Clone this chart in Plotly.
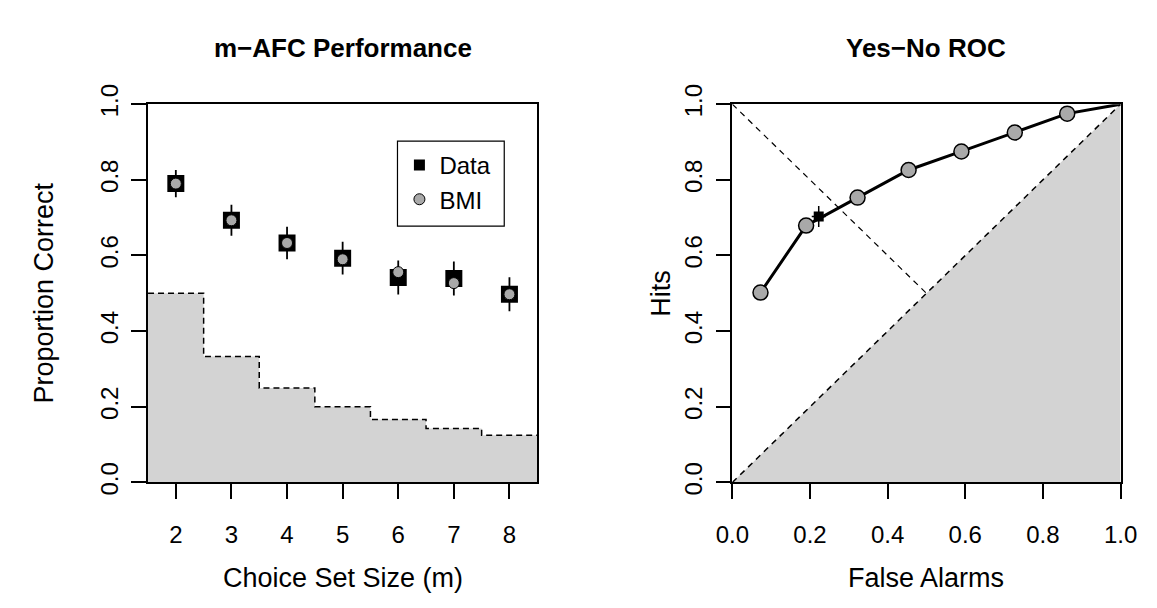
import plotly.graph_objects as go

# ---------------- data ----------------
# Left panel: m-AFC performance
set_size = [2, 3, 4, 5, 6, 7, 8]
chance = [0.5, 0.3333, 0.25, 0.2, 0.1667, 0.1429, 0.125]
data_pc = [0.79, 0.693, 0.633, 0.593, 0.542, 0.539, 0.4975]
data_err = [0.036, 0.041, 0.043, 0.043, 0.045, 0.045, 0.045]
bmi_pc = [0.79, 0.693, 0.633, 0.59, 0.556, 0.527, 0.4975]

# Right panel: Yes-No ROC
roc_fa = [0.0725, 0.19, 0.3225, 0.454, 0.59, 0.7275, 0.8625]
roc_hits = [0.502, 0.679, 0.753, 0.826, 0.875, 0.925, 0.975]
curve_end_fa = [1.0]
curve_end_hits = [1.0]
obs_fa = [0.2225]
obs_hits = [0.703]
obs_fa_err = [0.018]
obs_hits_err = [0.028]
diag_fa = [0.0, 1.0]
diag_hits = [0.0, 1.0]
anti_fa = [0.0, 0.5]
anti_hits = [1.0, 0.5]
below_fa = [0.0, 1.0, 1.0]
below_hits = [0.0, 0.0, 1.0]

x_ticks_left = [2, 3, 4, 5, 6, 7, 8]
unit_ticks = [0.0, 0.2, 0.4, 0.6, 0.8, 1.0]
unit_labels = ["0.0", "0.2", "0.4", "0.6", "0.8", "1.0"]

# ---------------- styling ----------------
W, H = 1157, 608
FONT = "Liberation Sans, Arial, Helvetica, sans-serif"
TICK_SIZE = 24
LAB_SIZE = 27
MAIN_SIZE = 26
FILL = "#d3d3d3"
PT_GRAY = "#a9a9a9"

def px_x(p):
    return p / W

def px_y(p):
    return 1 - p / H

fig = go.Figure()

# ---- left panel ----
edges = [m - 0.5 for m in set_size] + [set_size[-1] + 0.5]
steps = chance + [chance[-1]]
fig.add_trace(go.Scatter(
    x=edges, y=steps, mode="lines", line=dict(shape="hv", color="black", width=1.5, dash="6px,4px"),
    fill="tozeroy", fillcolor=FILL, showlegend=False, hoverinfo="skip", xaxis="x", yaxis="y"))

fig.add_trace(go.Scatter(
    x=set_size, y=data_pc, mode="markers",
    marker=dict(symbol="square", size=17, color="black"),
    error_y=dict(type="data", array=data_err, visible=True, color="black", thickness=1.8, width=0),
    showlegend=False, xaxis="x", yaxis="y"))
fig.add_trace(go.Scatter(
    x=set_size, y=bmi_pc, mode="markers",
    marker=dict(symbol="circle", size=11, color=PT_GRAY, line=dict(color="black", width=1)),
    showlegend=False, xaxis="x", yaxis="y"))

# legend entries
fig.add_trace(go.Scatter(
    x=[None], y=[None], mode="markers", name="Data",
    marker=dict(symbol="square", size=11, color="black"), xaxis="x", yaxis="y"))
fig.add_trace(go.Scatter(
    x=[None], y=[None], mode="markers", name="BMI",
    marker=dict(symbol="circle", size=11, color=PT_GRAY, line=dict(color="black", width=1)),
    xaxis="x", yaxis="y"))

# ---- right panel ----
fig.add_trace(go.Scatter(
    x=below_fa, y=below_hits, mode="none", fill="toself", fillcolor=FILL,
    showlegend=False, hoverinfo="skip", xaxis="x2", yaxis="y2"))
fig.add_trace(go.Scatter(
    x=diag_fa, y=diag_hits, mode="lines", line=dict(color="black", width=1.5, dash="6px,5px"),
    showlegend=False, hoverinfo="skip", xaxis="x2", yaxis="y2"))
fig.add_trace(go.Scatter(
    x=anti_fa, y=anti_hits, mode="lines", line=dict(color="black", width=1.2, dash="6px,5px"),
    showlegend=False, hoverinfo="skip", xaxis="x2", yaxis="y2"))
fig.add_trace(go.Scatter(
    x=roc_fa + curve_end_fa, y=roc_hits + curve_end_hits, mode="lines",
    line=dict(color="black", width=3), showlegend=False, xaxis="x2", yaxis="y2"))
fig.add_trace(go.Scatter(
    x=obs_fa, y=obs_hits, mode="markers",
    marker=dict(symbol="square", size=10, color="black"),
    error_x=dict(type="data", array=obs_fa_err, visible=True, color="black", thickness=1.5, width=0),
    error_y=dict(type="data", array=obs_hits_err, visible=True, color="black", thickness=1.5, width=0),
    showlegend=False, xaxis="x2", yaxis="y2"))
fig.add_trace(go.Scatter(
    x=roc_fa, y=roc_hits, mode="markers",
    marker=dict(symbol="circle", size=15, color=PT_GRAY, line=dict(color="black", width=1.5)),
    showlegend=False, xaxis="x2", yaxis="y2"))

axis_common = dict(
    showgrid=False, zeroline=False, showline=True, linecolor="black", linewidth=1.5,
    mirror=True, ticks="outside", ticklen=15, tickwidth=1.5, tickcolor="black",
    tickfont=dict(family=FONT, size=TICK_SIZE, color="black"),
)

ydom = [px_y(489), px_y(89)]

def ann(text, x, y, size, angle=0):
    return dict(text=text, x=px_x(x), y=px_y(y), xref="paper", yref="paper",
                xanchor="center", yanchor="middle", showarrow=False, textangle=angle,
                font=dict(size=size, family=FONT, color="black"))

fig.update_layout(
    width=W, height=H, margin=dict(l=0, r=0, t=0, b=0),
    paper_bgcolor="white", plot_bgcolor="white",
    font=dict(family=FONT, color="black"),
    xaxis=dict(domain=[px_x(135), px_x(536)], range=[1.5, 8.5], tickvals=x_ticks_left,
               anchor="y", ticklabelstandoff=15, **axis_common),
    yaxis=dict(domain=ydom, range=[0, 1], tickvals=unit_ticks, ticktext=unit_labels,
               tickangle=-90, anchor="x", ticklabelstandoff=4, **axis_common),
    xaxis2=dict(domain=[px_x(737), px_x(1137)], range=[0, 1], tickvals=unit_ticks, ticktext=unit_labels,
                anchor="y2", ticklabelstandoff=15, **axis_common),
    yaxis2=dict(domain=ydom, range=[0, 1], tickvals=unit_ticks, ticktext=unit_labels,
                tickangle=-90, anchor="x2", ticklabelstandoff=4, **axis_common),
    legend=dict(x=px_x(394), y=px_y(130), xanchor="left", yanchor="top",
                bgcolor="rgba(0,0,0,0)", borderwidth=0, itemsizing="trace",
                font=dict(family=FONT, size=TICK_SIZE, color="black"), tracegroupgap=0),
    shapes=[dict(type="rect", xref="paper", yref="paper",
                 x0=px_x(392), x1=px_x(502), y0=px_y(218), y1=px_y(128),
                 line=dict(color="black", width=1.2), fillcolor="white", layer="below")],
    annotations=[
        ann("<b>m\u2212AFC Performance</b>", 335.5, 30, MAIN_SIZE),
        ann("<b>Yes\u2212No ROC</b>", 937, 30, MAIN_SIZE),
        ann("Choice Set Size (m)", 335.5, 590, LAB_SIZE),
        ann("False Alarms", 937, 590, LAB_SIZE),
        ann("Proportion Correct", 28, 289, LAB_SIZE, -90),
        ann("Hits", 664, 289, LAB_SIZE, -90),
    ],
)

fig.write_html("out.html")
